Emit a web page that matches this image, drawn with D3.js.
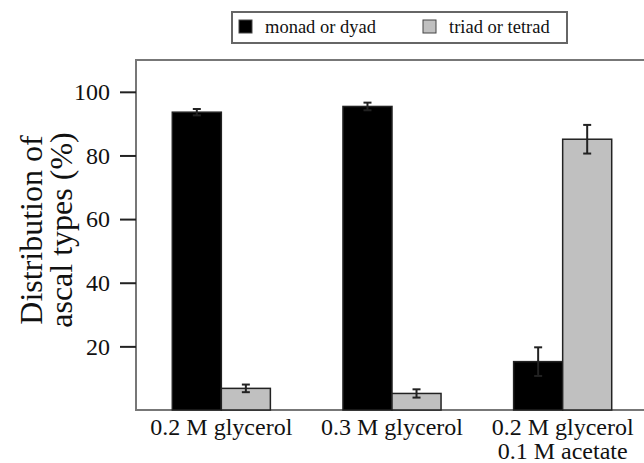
<!DOCTYPE html>
<html>
<head>
<meta charset="utf-8">
<script src="https://cdn.jsdelivr.net/npm/d3@7"></script>
<style>
  body { margin: 0; background: #fff; }
  svg text { font-family: 'Liberation Serif', 'Times New Roman', serif !important; fill: #111; }
</style>
</head>
<body>
<svg id="svg" width="644" height="463"></svg>
<script>
// data
const categories = ["0.2 M glycerol", "0.3 M glycerol", "0.2 M glycerol\n0.1 M acetate"];
const seriesNames = ["monad or dyad", "triad or tetrad"];
const monadDyad = [93.6, 95.4, 15.2];
const monadDyadErr = [1.0, 1.2, 4.5];
const triadTetrad = [6.8, 5.2, 85.1];
const triadTetradErr = [1.2, 1.3, 4.5];
const yTicks = [20, 40, 60, 80, 100];

const colors = ["#000000", "#c0c0c0"];

let svg = d3.select("#svg");

// plot area
let margins = { top: 60, right: -4, bottom: 53, left: 136 };
let width = 644, height = 463;

let x0 = d3.scaleBand()
    .domain(categories)
    .range([margins.left, width - margins.right])
    .paddingInner(0)
    .paddingOuter(0);

let x1 = d3.scaleBand()
    .domain(seriesNames)
    .range([0, x0.bandwidth()])
    .paddingOuter(0.74)
    .paddingInner(0);

let y = d3.scaleLinear()
    .domain([0, 110])
    .range([height - margins.bottom, margins.top]);

// build rows for drawing
let rows = [];
categories.forEach((c, i) => {
    rows.push({ cat: c, s: seriesNames[0], v: monadDyad[i], e: monadDyadErr[i], col: colors[0] });
    rows.push({ cat: c, s: seriesNames[1], v: triadTetrad[i], e: triadTetradErr[i], col: colors[1] });
});

// frame: left, top, bottom lines (gray)
let x0px = margins.left, yTop = margins.top, yBot = y(0);
svg.append("path")
    .attr("d", `M${width},${yTop}H${x0px}V${yBot}H${width}`)
    .attr("fill", "none")
    .attr("stroke", "#777")
    .attr("stroke-width", 2);

// bars
svg.append("g").selectAll("rect")
    .data(rows)
    .join("rect")
    .attr("x", d => x0(d.cat) + x1(d.s))
    .attr("y", d => y(d.v))
    .attr("width", x1.bandwidth())
    .attr("height", d => y(0) - y(d.v))
    .attr("fill", d => d.col)
    .attr("stroke", "#222")
    .attr("stroke-width", 1.5);

// error bars
let eg = svg.append("g").attr("stroke", "#222").attr("stroke-width", 2);
rows.forEach(d => {
    let cx = x0(d.cat) + x1(d.s) + x1.bandwidth() / 2;
    let cap = 4;
    eg.append("line").attr("x1", cx).attr("x2", cx).attr("y1", y(d.v + d.e)).attr("y2", y(d.v - d.e));
    eg.append("line").attr("x1", cx - cap).attr("x2", cx + cap).attr("y1", y(d.v + d.e)).attr("y2", y(d.v + d.e));
    eg.append("line").attr("x1", cx - cap).attr("x2", cx + cap).attr("y1", y(d.v - d.e)).attr("y2", y(d.v - d.e));
});

// y axis
let yAxis = d3.axisLeft(y).tickValues(yTicks).tickSize(16).tickPadding(10);
let yg = svg.append("g")
    .attr("transform", `translate(${margins.left},0)`)
    .call(yAxis)
    .attr("font-family", null)
    .attr("font-size", null);
yg.select(".domain").remove();
yg.selectAll(".tick line").attr("stroke", "#222").attr("stroke-width", 2);
yg.selectAll(".tick text")
    .style("font-size", "24px")
    .attr("fill", "#111");

// x axis labels, multi-line where needed
let xAxis = d3.axisBottom(x0).tickSize(0).tickPadding(0);
let xg = svg.append("g")
    .attr("transform", `translate(0,${yBot})`)
    .call(xAxis)
    .attr("font-family", null)
    .attr("font-size", null);
xg.select(".domain").remove();
xg.selectAll(".tick text").remove();
xg.selectAll(".tick").each(function(d) {
    let t = d3.select(this);
    d.split("\n").forEach((line, i) => {
        t.append("text")
            .attr("x", 0)
            .attr("y", 25 + i * 24)
            .attr("text-anchor", "middle")
            .style("font-size", "24px")
            .text(line);
    });
});

// y title
svg.append("text")
    .attr("transform", "translate(42,230) rotate(-90)")
    .attr("text-anchor", "middle")
    .style("font-size", "32px")
    .text("Distribution of");
svg.append("text")
    .attr("transform", "translate(72,230) rotate(-90)")
    .attr("text-anchor", "middle")
    .style("font-size", "32px")
    .text("ascal types (%)");

// legend
let lg = svg.append("g");
lg.append("rect")
    .attr("x", 232).attr("y", 12).attr("width", 335).attr("height", 31)
    .attr("fill", "#fff").attr("stroke", "#666").attr("stroke-width", 2);
let legendX = [239, 423];
seriesNames.forEach((s, i) => {
    lg.append("rect")
        .attr("x", legendX[i]).attr("y", 20).attr("width", 13).attr("height", 13)
        .attr("fill", colors[i]).attr("stroke", "#444").attr("stroke-width", 1);
    lg.append("text")
        .attr("x", legendX[i] + 26).attr("y", 33)
        .style("font-size", "18.5px")
        .text(s);
});
</script>
</body>
</html>
